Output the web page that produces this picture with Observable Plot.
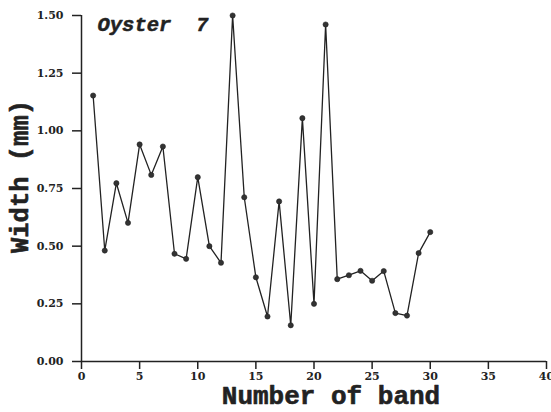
<!DOCTYPE html>
<html>
<head>
<meta charset="utf-8">
<script src="https://cdn.jsdelivr.net/npm/d3@7"></script>
<script src="https://cdn.jsdelivr.net/npm/@observablehq/plot@0.6"></script>
<style>
  html, body { margin: 0; padding: 0; background: #fff; }
  svg { display: block; }
</style>
</head>
<body>
<div id="chart"></div>
<script>
const bands = [1,2,3,4,5,6,7,8,9,10,11,12,13,14,15,16,17,18,19,20,21,22,23,24,25,26,27,28,29,30];
const widths = [1.153,0.481,0.773,0.601,0.941,0.809,0.932,0.467,0.445,0.799,0.500,0.428,1.500,0.712,0.365,0.195,0.694,0.157,1.055,0.250,1.461,0.357,0.374,0.393,0.350,0.392,0.210,0.199,0.470,0.561];
const xTicks = [0,5,10,15,20,25,30,35,40];
const yTicks = [0,0.25,0.5,0.75,1.0,1.25,1.5];
const titleText = "Oyster  7";
const xLabel = "Number of band";
const yLabel = "Width (mm)";

const data = bands.map((b, i) => ({band: b, width: widths[i]}));

const tickFont = "DejaVu Serif";
const labelFont = "Liberation Mono";

const chart = Plot.plot({
  width: 551,
  height: 412,
  marginLeft: 81,
  marginRight: 5,
  marginTop: 15,
  marginBottom: 51,
  style: {background: "#fff", color: "#222"},
  x: {domain: [0, 40], ticks: xTicks},
  y: {domain: [0, 1.5], ticks: yTicks},
  marks: [
    Plot.axisX({ticks: xTicks, tickSize: 8, tickPadding: 3, tickFormat: d3.format("d"), fontSize: 11, fontWeight: "bold", fontFamily: tickFont, label: null, strokeWidth: 1.5, stroke: "#222"}),
    Plot.axisY({ticks: yTicks, tickSize: 9, tickPadding: 9, tickFormat: d3.format(".2f"), fontSize: 11, fontWeight: "bold", fontFamily: tickFont, label: null, strokeWidth: 1.5, stroke: "#222"}),
    Plot.ruleX([0], {stroke: "#222", strokeWidth: 1.5}),
    Plot.ruleY([0], {stroke: "#222", strokeWidth: 1.5}),
    Plot.line(data, {x: "band", y: "width", stroke: "#222", strokeWidth: 1.3}),
    Plot.dot(data, {x: "band", y: "width", r: 2.6, fill: "#333", stroke: "#222", strokeWidth: 0.6}),
    Plot.text([titleText], {frameAnchor: "top-left", dx: 16, dy: 9, textAnchor: "start", lineAnchor: "middle", fontFamily: labelFont, fontStyle: "italic", fontWeight: "bold", fontSize: 20.5, fill: "#222", stroke: "#222", strokeWidth: 0.5}),
    Plot.text([xLabel], {frameAnchor: "bottom", dx: 17, dy: 34, textAnchor: "middle", lineAnchor: "middle", fontFamily: labelFont, fontWeight: "bold", fontSize: 26, fill: "#222", stroke: "#222", strokeWidth: 0.6}),
    Plot.text([yLabel], {frameAnchor: "left", dx: -62, dy: -12, rotate: -90, textAnchor: "middle", lineAnchor: "middle", fontFamily: labelFont, fontWeight: "bold", fontSize: 25.5, fill: "#222", stroke: "#222", strokeWidth: 0.6})
  ]
});
document.getElementById("chart").appendChild(chart);
</script>
</body>
</html>
